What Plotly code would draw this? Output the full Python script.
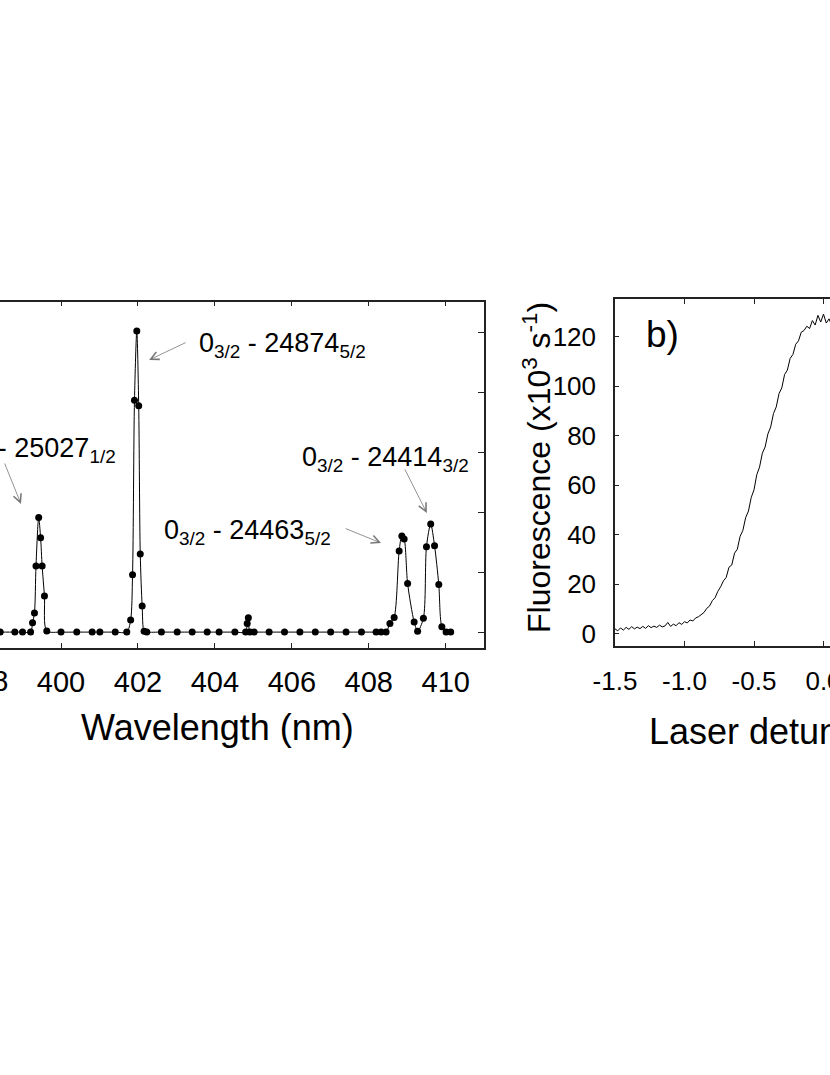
import plotly.graph_objects as go

# ---------------- data ----------------
# panel a: wavelength scan
wavelength_nm = [398.42, 398.80, 399.00, 399.21, 399.26, 399.31, 399.35, 399.42, 399.47, 399.51,
                 399.57, 399.63, 400.00, 400.41, 400.81, 401.01, 401.41, 401.71, 401.81, 401.86,
                 401.91, 401.97, 402.02, 402.06, 402.11, 402.16, 402.23, 402.61, 403.02, 403.41,
                 403.80, 404.11, 404.52, 404.80, 404.84, 404.87, 404.91, 405.02, 405.41, 405.81,
                 406.21, 406.61, 407.01, 407.41, 407.81, 408.19, 408.32, 408.45, 408.55, 408.66,
                 408.79, 408.86, 408.92, 409.01, 409.18, 409.27, 409.42, 409.50, 409.61, 409.71,
                 409.82, 409.90, 410.01, 410.13]
intensity = [0, 0, 0, 0, 3.1, 6.4, 22, 38.2, 31.4, 22,
             12, 0.4, 0, 0, 0, 0, 0, 0, 4, 19.1,
             77.3, 100.3, 75.4, 26, 8.7, 0.3, 0, 0, 0, 0,
             0, 0, 0, 0, 2.9, 4.8, 0, 0, 0, 0,
             0, 0, 0, 0, 0, 0, 0, 0, 2.9, 4.9,
             27, 32, 31, 16.2, 3.4, 0.3, 4.6, 28.4, 36, 28.8,
             15.9, 1.8, 0, 0]
wl_ticks = [400, 402, 404, 406, 408, 410]
int_ticks = [0, 20, 40, 60, 80, 100]

# panel b: fluorescence vs laser detuning
detuning = [-1.50, -1.48, -1.46, -1.44, -1.42, -1.40, -1.38, -1.36, -1.34, -1.32,
            -1.30, -1.28, -1.26, -1.24, -1.22, -1.20, -1.18, -1.16, -1.14, -1.12,
            -1.10, -1.08, -1.06, -1.04, -1.02, -1.00, -0.98, -0.96, -0.94, -0.92,
            -0.90, -0.88, -0.86, -0.84, -0.82, -0.80, -0.78, -0.76, -0.74, -0.72,
            -0.70, -0.68, -0.66, -0.64, -0.62, -0.60, -0.58, -0.56, -0.54, -0.52,
            -0.50, -0.48, -0.46, -0.44, -0.42, -0.40, -0.38, -0.36, -0.34, -0.32,
            -0.30, -0.28, -0.26, -0.24, -0.22, -0.20, -0.18, -0.16, -0.14, -0.12,
            -0.10, -0.08, -0.06, -0.04, -0.02, 0.00, 0.02, 0.04, 0.06]
fluorescence = [2.0, 1.2, 2.4, 1.5, 2.6, 1.8, 2.9, 2.0, 2.7, 2.1,
                3.0, 2.2, 3.3, 2.5, 3.1, 2.6, 3.5, 2.8, 3.2, 4.6,
                3.0, 3.9, 3.3, 4.5, 3.8, 4.9, 4.4, 5.6, 5.2, 6.4,
                6.9, 7.7, 8.6, 10.3, 11.2, 13.4, 14.6, 17.2, 19.0, 21.4,
                22.8, 26.9, 27.8, 32.6, 34.2, 39.4, 41.8, 47.0, 49.6, 55.1,
                58.2, 64.3, 67.4, 73.0, 75.5, 80.8, 83.6, 89.0, 91.7, 97.1,
                99.4, 104.8, 106.6, 111.3, 112.9, 117.0, 118.4, 121.9, 122.6, 124.3,
                123.4, 126.6, 124.8, 128.7, 126.0, 129.2, 125.6, 127.3, 124.5]
det_ticks = [-1.5, -1.0, -0.5, 0.0]
det_ticktext = ["-1.5", "-1.0", "-0.5", "0.0"]
fl_ticks = [0, 20, 40, 60, 80, 100, 120]

# ---------------- layout helpers ----------------
W, H = 830, 1075
FONT = "Liberation Sans, Arial, Helvetica, sans-serif"
AXC = "#222222"


def pxx(x):
    return x / W


def pxy(y):
    return 1 - y / H


# left panel geometry (pixel positions of the 400 tick and nm spacing)
PX400, PX_PER_NM = 61.0, 38.47
A_LEFT, A_RIGHT, A_TOP, A_BOT = 0.0, 484.0, 301.7, 647.7
a_x0 = 400 - (PX400 - A_LEFT) / PX_PER_NM
a_x1 = 400 + (A_RIGHT - PX400) / PX_PER_NM

# right panel geometry
B_LEFT, B_TOP, B_BOT = 615.0, 299.3, 645.7
PX_PER_UNIT = 139.0
b_x1 = -1.5 + (W - B_LEFT) / PX_PER_UNIT

fig = go.Figure()

fig.add_trace(go.Scatter(
    x=wavelength_nm, y=intensity, mode="lines+markers",
    line=dict(color="black", width=1, shape="spline", smoothing=0.8),
    marker=dict(color="black", size=7),
    xaxis="x", yaxis="y", showlegend=False,
))

fig.add_trace(go.Scatter(
    x=detuning, y=fluorescence, mode="lines",
    line=dict(color="black", width=1),
    xaxis="x2", yaxis="y2", showlegend=False,
))

common = dict(showgrid=False, zeroline=False, showline=True, linecolor=AXC,
              linewidth=1.5, ticks="inside", tickcolor=AXC, tickwidth=1,
              automargin=False)

fig.update_layout(
    width=W, height=H,
    margin=dict(l=0, r=0, t=0, b=0, pad=0, autoexpand=False),
    paper_bgcolor="white", plot_bgcolor="white",
    font=dict(family=FONT, color="black"),
    xaxis=dict(domain=[pxx(A_LEFT), pxx(A_RIGHT)], range=[a_x0, a_x1],
               tickvals=wl_ticks, ticklen=5, mirror="ticks", anchor="y",
               tickfont=dict(size=29), ticklabelstandoff=8, **common),
    yaxis=dict(domain=[pxy(A_BOT), pxy(A_TOP)], range=[-5.2, 110.1],
               tickvals=int_ticks, ticklen=6, side="right", anchor="x",
               showticklabels=False, **common),
    xaxis2=dict(domain=[pxx(B_LEFT), 1.0], range=[-1.5, b_x1],
                tickvals=det_ticks, ticktext=det_ticktext, ticklen=5,
                mirror="ticks", anchor="y2", tickfont=dict(size=26),
                ticklabelstandoff=11, ticklabeloverflow="allow", **common),
    yaxis2=dict(domain=[pxy(B_BOT), pxy(B_TOP)], range=[-4.8, 135.2],
                tickvals=fl_ticks, ticklen=4, anchor="x2",
                tickfont=dict(size=26), ticklabelstandoff=12, **common),
)

ann = []
lab_font = dict(family=FONT, size=27, color="black")
# transition labels (panel a)
ann.append(dict(text="0<sub>3/2</sub> - 24874<sub>5/2</sub>", xref="paper", yref="paper",
                x=pxx(197), y=pxy(345), xanchor="left", yanchor="middle",
                showarrow=False, font=lab_font))
ann.append(dict(text="0<sub>3/2</sub> - 25027<sub>1/2</sub>", xref="paper", yref="paper",
                x=pxx(118), y=pxy(450), xanchor="right", yanchor="middle",
                showarrow=False, font=lab_font))
ann.append(dict(text="0<sub>3/2</sub> - 24463<sub>5/2</sub>", xref="paper", yref="paper",
                x=pxx(162), y=pxy(532), xanchor="left", yanchor="middle",
                showarrow=False, font=lab_font))
ann.append(dict(text="0<sub>3/2</sub> - 24414<sub>3/2</sub>", xref="paper", yref="paper",
                x=pxx(300), y=pxy(459), xanchor="left", yanchor="middle",
                showarrow=False, font=lab_font))

# arrows: (head x, head y, tail x, tail y) in data units of panel a
arrows = [(402.29, 90.7, 403.28, 96.7),
          (398.96, 42.7, 398.52, 56.7),
          (408.32, 29.7, 407.36, 34.7),
          (409.51, 39.7, 408.92, 54.7)]
for hx, hy, tx, ty in arrows:
    ann.append(dict(text="", x=hx, y=hy, ax=tx, ay=ty, xref="x", yref="y",
                    axref="x", ayref="y", showarrow=True, arrowhead=5,
                    arrowsize=2.0, arrowwidth=0.8, arrowcolor="#777777",
                    standoff=0, startstandoff=0))

# partially visible 398 tick label at the cut-off left edge
ann.append(dict(text="398", xref="paper", yref="paper",
                x=pxx(PX400 - 2 * PX_PER_NM), y=pxy(681), xanchor="center",
                yanchor="middle", showarrow=False,
                font=dict(family=FONT, size=29, color="black")))

# axis titles
ann.append(dict(text="Wavelength (nm)", xref="paper", yref="paper",
                x=pxx(217), y=pxy(727), xanchor="center", yanchor="middle",
                showarrow=False, font=dict(family=FONT, size=36, color="black")))
ann.append(dict(text="Laser detuning (GHz)", xref="paper", yref="paper",
                x=pxx(647), y=pxy(731), xanchor="left", yanchor="middle",
                showarrow=False, font=dict(family=FONT, size=36, color="black")))
ann.append(dict(text="Fluorescence (x10<sup>3</sup> s<sup>-1</sup>)", xref="paper",
                yref="paper", x=pxx(537), y=pxy(468), xanchor="center",
                yanchor="middle", textangle=-90, showarrow=False,
                font=dict(family=FONT, size=32, color="black")))
# panel tag
ann.append(dict(text="b)", xref="paper", yref="paper", x=pxx(644), y=pxy(334),
                xanchor="left", yanchor="middle", showarrow=False,
                font=dict(family=FONT, size=37, color="black")))

fig.update_layout(annotations=ann)

fig.write_html("out.html",
               config={"displayModeBar": False},
               post_script="document.body.style.margin='0px';"
                           "document.body.style.overflow='hidden';")
